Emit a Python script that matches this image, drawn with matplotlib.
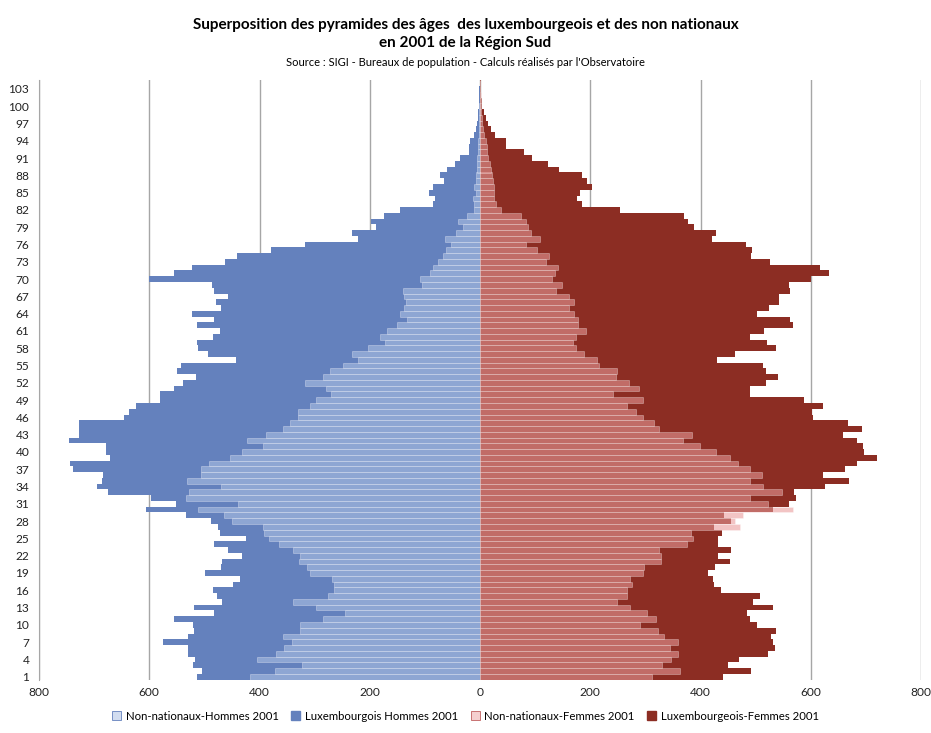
import numpy as np
import matplotlib.pyplot as plt
from matplotlib.colors import to_rgba
from matplotlib.patches import Patch

# ages 1 .. 104
ages = list(range(1, 105))

lux_hommes = [514, 504, 521, 517, 530, 530, 575, 530, 519, 521,
              556, 483, 519, 468, 477, 485, 448, 435, 499, 470,
              468, 432, 457, 482, 424, 471, 476, 488, 533, 605,
              552, 596, 674, 695, 685, 683, 738, 744, 672, 678,
              678, 746, 727, 727, 727, 646, 636, 624, 580, 580,
              556, 539, 516, 550, 543, 442, 494, 512, 514, 485,
              472, 514, 483, 522, 469, 479, 457, 483, 486, 601,
              556, 522, 463, 441, 379, 317, 221, 232, 189, 197,
              175, 146, 85, 82, 92, 85, 66, 72, 60, 46,
              37, 20, 20, 19, 10, 8, 5, 4, 3, 2,
              2, 1, 1, 0]

nonnat_hommes = [417, 372, 322, 404, 370, 356, 341, 358, 327, 327,
                 285, 244, 298, 339, 276, 264, 264, 268, 309, 314,
                 329, 327, 339, 364, 382, 392, 394, 450, 465, 511,
                 439, 534, 527, 469, 531, 506, 506, 492, 454, 432,
                 393, 423, 388, 358, 344, 330, 330, 309, 298, 271,
                 279, 318, 284, 272, 249, 221, 233, 204, 173, 182,
                 168, 151, 132, 146, 138, 134, 137, 139, 105, 108,
                 91, 85, 76, 68, 62, 52, 64, 43, 31, 40,
                 23, 10, 10, 12, 8, 10, 8, 8, 6, 6,
                 5, 4, 4, 3, 2, 2, 1, 1, 1, 1,
                 0, 0, 0, 0]

lux_femmes = [440, 491, 449, 469, 523, 535, 531, 528, 537, 503,
              490, 484, 532, 495, 508, 437, 425, 422, 414, 427,
              454, 431, 455, 431, 431, 439, 425, 455, 442, 532,
              560, 574, 569, 626, 669, 623, 662, 684, 721, 696,
              695, 684, 659, 693, 667, 604, 602, 622, 588, 490,
              490, 519, 541, 519, 513, 430, 463, 537, 520, 489,
              515, 567, 563, 502, 525, 542, 543, 563, 561, 601,
              634, 616, 526, 491, 493, 482, 420, 428, 388, 378,
              370, 254, 185, 176, 182, 203, 194, 185, 144, 124,
              94, 79, 47, 47, 27, 20, 14, 10, 8, 3,
              3, 2, 1, 1]

nonnat_femmes = [312, 363, 330, 346, 360, 344, 359, 333, 322, 290,
                 319, 303, 272, 249, 266, 267, 275, 273, 295, 298,
                 328, 328, 324, 376, 386, 382, 472, 462, 477, 567,
                 522, 489, 548, 513, 490, 511, 489, 468, 453, 428,
                 399, 369, 384, 324, 315, 295, 283, 266, 295, 241,
                 289, 271, 247, 248, 215, 212, 188, 175, 169, 174,
                 192, 177, 177, 171, 162, 171, 162, 138, 148, 130,
                 136, 142, 120, 126, 104, 83, 108, 92, 87, 83,
                 74, 39, 29, 25, 25, 25, 24, 22, 20, 18,
                 14, 12, 12, 10, 8, 5, 4, 3, 2, 2,
                 1, 1, 0, 0]

labels = ['Non-nationaux-Hommes 2001', 'Luxembourgois Hommes 2001',
          'Non-nationaux-Femmes 2001', 'Luxembourgeois-Femmes 2001']

c_lux_h = '#6481BD'
c_lux_f = '#8C2D23'
c_nn_h = to_rgba('#AEC1E3', 0.58)
c_nn_f = to_rgba('#E99A9A', 0.58)

plt.rcParams['font.family'] = ['Lato', 'DejaVu Sans']

fig = plt.figure(figsize=(9.31, 7.33), dpi=100)
ax = fig.add_axes([39 / 931, 1 - 679.6 / 733, (921 - 39) / 931, (679.6 - 80.3) / 733])

# luxembourgeois first, non nationaux drawn over them (superposition)
ax.barh(ages, -np.array(lux_hommes), height=1.0, color=c_lux_h, linewidth=0, zorder=2)
ax.barh(ages, lux_femmes, height=1.0, color=c_lux_f, linewidth=0, zorder=2)
ax.barh(ages, -np.array(nonnat_hommes), height=1.0, facecolor=c_nn_h,
        edgecolor=(1, 1, 1, 0.35), linewidth=0.6, zorder=3)
ax.barh(ages, nonnat_femmes, height=1.0, facecolor=c_nn_f,
        edgecolor=(1, 1, 1, 0.35), linewidth=0.6, zorder=3)

ax.set_xlim(-800, 800)
ax.set_ylim(0.5, 104.5)
xt = list(range(-800, 801, 200))
ax.set_xticks(xt)
ax.set_xticklabels([str(abs(v)) for v in xt])
ax.set_yticks(list(range(1, 104, 3)))
ax.tick_params(axis='both', length=0, labelsize=8.6, colors='#222222')
ax.tick_params(axis='y', pad=7)
ax.tick_params(axis='x', pad=5)
ax.grid(axis='x', color='#A6A6A6', linewidth=1.0, zorder=0)
ax.set_axisbelow(True)
for s in ['top', 'right', 'bottom']:
    ax.spines[s].set_visible(False)
ax.spines['left'].set_color('#A6A6A6')

fig.text(0.5, 1 - 25 / 733, "Superposition des pyramides des âges  des luxembourgeois et des non nationaux",
         ha='center', va='center', fontsize=11, fontweight='bold')
fig.text(0.5, 1 - 43 / 733, "en 2001 de la Région Sud",
         ha='center', va='center', fontsize=11, fontweight='bold')
fig.text(0.5, 1 - 62 / 733, "Source : SIGI - Bureaux de population - Calculs réalisés par l'Observatoire",
         ha='center', va='center', fontsize=8)

handles = [Patch(facecolor='#D2DDF0', edgecolor='#6481BD', linewidth=0.6),
           Patch(facecolor=c_lux_h, edgecolor=c_lux_h),
           Patch(facecolor='#F5CFCF', edgecolor='#C06060', linewidth=0.6),
           Patch(facecolor=c_lux_f, edgecolor=c_lux_f)]
fig.legend(handles, labels, loc='center', bbox_to_anchor=(0.5, 1 - 716 / 733), ncol=4,
           frameon=False, fontsize=8.2, handlelength=0.8, handleheight=0.8,
           handletextpad=0.4, columnspacing=1.1)

fig.savefig('out.png', dpi=100)
